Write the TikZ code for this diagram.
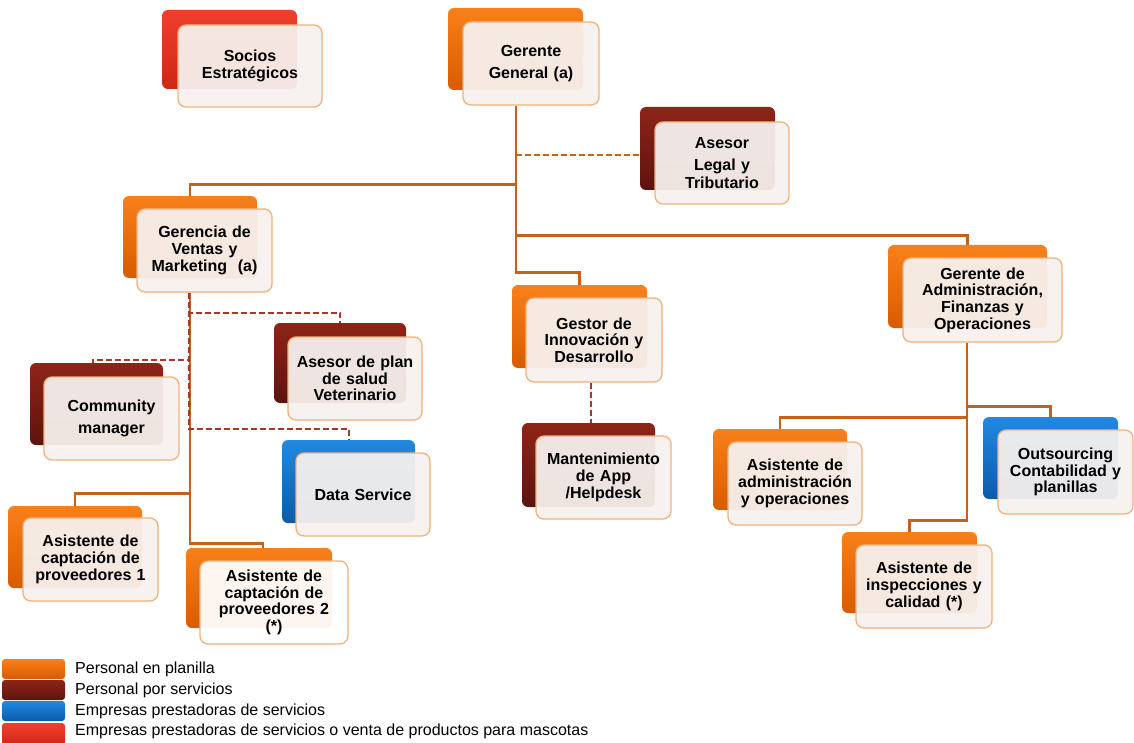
\documentclass[tikz,border=0pt]{standalone}
\usepackage{fontspec}
\setmainfont{Liberation Sans}
\usetikzlibrary{backgrounds}

\definecolor{orgL}{HTML}{F8801A}
\definecolor{orgD}{HTML}{D85C00}
\definecolor{drL}{HTML}{8E2418}
\definecolor{drD}{HTML}{5E130E}
\definecolor{blL}{HTML}{2288E0}
\definecolor{blD}{HTML}{0A5CAA}
\definecolor{rdL}{HTML}{F0402C}
\definecolor{rdD}{HTML}{D02614}
\definecolor{cardfill}{HTML}{F6F1EE}
\definecolor{cardedge}{HTML}{F0B27A}
\definecolor{solidln}{HTML}{C2621C}
\definecolor{dashln}{HTML}{A8382A}

\tikzset{
  backcard/.style={rounded corners=6pt, inner sep=0pt, draw=none},
  orangeback/.style={backcard, top color=orgL, bottom color=orgD},
  darkback/.style={backcard, top color=drL, bottom color=drD},
  blueback/.style={backcard, top color=blL, bottom color=blD},
  redback/.style={backcard, top color=rdL, bottom color=rdD},
  card/.style={rounded corners=8pt, inner sep=0pt, draw=cardedge, line width=1.3pt,
    fill=cardfill, fill opacity=0.94, text opacity=1, align=center,
    font=\fontsize{16}{16.7}\selectfont\bfseries},
  link/.style={draw=solidln, line width=2.4pt},
  dlink/.style={draw=dashln, line width=2pt, dash pattern=on 6pt off 3pt},
  legendtext/.style={anchor=west, inner sep=0pt, font=\fontsize{16}{18}\selectfont},
}

% box given by its corners (x1,y1)-(x2,y2) in pixel units
\newcommand\boxnode[7]{%
  \pgfmathsetmacro\ubw{#5-#3}\pgfmathsetmacro\ubh{#6-#4}\pgfmathsetmacro\utw{#5-#3-4}%
  \node[#1, minimum width=\ubw pt, minimum height=\ubh pt, text width=\utw pt]
    (#2) at ({(#3+#5)/2},{(#4+#6)/2}) {#7};}

\begin{document}
\begin{tikzpicture}[x=1pt, y=-1pt]
\useasboundingbox (0,0) rectangle (1134,743);

% units: coloured back card, then text card
\boxnode{redback}{socB}{162}{10}{297}{89}{}
\boxnode{card}{soc}{178}{25}{322}{107}{Socios\\[1pt]Estratégicos}
\boxnode{orangeback}{gerB}{448}{8}{583}{90}{}
\boxnode{card}{ger}{463}{22}{599}{105}{Gerente\\[6pt]General (a)}
\boxnode{darkback}{legB}{640}{107}{775}{190}{}
\boxnode{card}{leg}{655}{122}{789}{204}{Asesor\\[5pt]Legal y\\[1pt]Tributario}
\boxnode{orangeback}{venB}{123}{196}{257}{278}{}
\boxnode{card}{ven}{137}{209}{272}{292}{Gerencia de\\Ventas y\\Marketing~ (a)}
\boxnode{darkback}{plaB}{274}{323}{406}{403}{}
\boxnode{card}{pla}{288}{337}{422}{420}{Asesor de plan\\de salud\\Veterinario}
\boxnode{darkback}{comB}{30}{363}{163}{445}{}
\boxnode{card}{com}{44}{377}{179}{460}{Community\\[6pt]manager}
\boxnode{blueback}{datB}{282}{440}{415}{523}{}
\boxnode{card}{dat}{296}{453}{430}{536}{Data Service}
\boxnode{orangeback}{as1B}{8}{506}{142}{588}{}
\boxnode{card}{as1}{23}{518}{158}{601}{Asistente de\\captación de\\proveedores 1}
\boxnode{orangeback}{as2B}{186}{548}{332}{628}{}
\boxnode{card,fill=white}{as2}{200}{561}{348}{644}{Asistente de\\captación de\\proveedores 2\\(*)}
\boxnode{orangeback}{gesB}{512}{285}{647}{368}{}
\boxnode{card}{ges}{526}{298}{662}{382}{Gestor de\\Innovación y\\Desarrollo}
\boxnode{darkback}{manB}{522}{423}{655}{507}{}
\boxnode{card}{man}{536}{436}{671}{519}{Mantenimiento\\de App\\/Helpdesk}
\boxnode{orangeback}{admB}{888}{245}{1047}{328}{}
\boxnode{card}{adm}{903}{258}{1062}{342}{Gerente de\\Administración,\\Finanzas y\\Operaciones}
\boxnode{orangeback}{aadB}{713}{429}{847}{510}{}
\boxnode{card}{aad}{728}{442}{862}{525}{Asistente de\\administración\\y operaciones}
\boxnode{blueback}{outB}{983}{417}{1118}{499}{}
\boxnode{card}{out}{998}{430}{1133}{514}{Outsourcing\\Contabilidad y\\planillas}
\boxnode{orangeback}{insB}{842}{532}{977}{613}{}
\boxnode{card}{ins}{856}{545}{992}{628}{Asistente de\\inspecciones y\\calidad (*)}

% connectors behind the cards
\begin{scope}[on background layer]
  \draw[link] ([xshift=-15pt]ger.south) -- ++(0,79) -| (venB.north);
  \draw[link] ([xshift=-15pt]ger.south) -- ++(0,130) -| (admB.north);
  \draw[link] ([xshift=-15pt]ger.south) -- ++(0,167) -| (gesB.north);
  \draw[dlink, draw=solidln] ([xshift=-15pt,yshift=-49pt]ger.south)
    -- ([yshift=-49pt]ger.south -| legB.west);

  \draw[link] ([xshift=-14.5pt]ven.south) -- ++(0,201) -| (as1B.north);
  \draw[link] ([xshift=-14.5pt]ven.south) -- ++(0,251) -| ([xshift=4pt]as2B.north);
  \draw[dlink] ([xshift=-16pt]ven.south) -- ++(0,20) -| (plaB.north);
  \draw[dlink] ([xshift=-16pt]ven.south) -- ++(0,67) -| ([xshift=-3.5pt]comB.north);
  \draw[dlink] ([xshift=-16pt]ven.south) -- ++(0,136) -| (datB.north);

  \draw[dlink] ([xshift=2.5pt]manB.north |- ges.south) -- ([xshift=2.5pt]manB.north);

  \draw[link] ([xshift=-15.5pt]adm.south) -- ++(0,64) -| (outB.north);
  \draw[link] ([xshift=-15.5pt]adm.south) -- ++(0,75) -| (aadB.north);
  \draw[link] ([xshift=-15.5pt]adm.south) -- ++(0,178) -| (insB.north);
\end{scope}

% legend
\boxnode{orangeback,rounded corners=3pt}{lg1}{2}{659}{65}{679}{}
\boxnode{darkback,rounded corners=3pt}{lg2}{2}{680}{65}{700}{}
\boxnode{blueback,rounded corners=3pt}{lg3}{2}{701}{65}{721}{}
\boxnode{redback,rounded corners=3pt}{lg4}{2}{723}{65}{745}{}
\node[legendtext] (lt1) at (75,669) {Personal en planilla};
\node[legendtext] (lt2) at (75,690) {Personal por servicios};
\node[legendtext] (lt3) at (75,711) {Empresas prestadoras de servicios};
\node[legendtext] (lt4) at (75,731) {Empresas prestadoras de servicios o venta de productos para mascotas};
\end{tikzpicture}
\end{document}
